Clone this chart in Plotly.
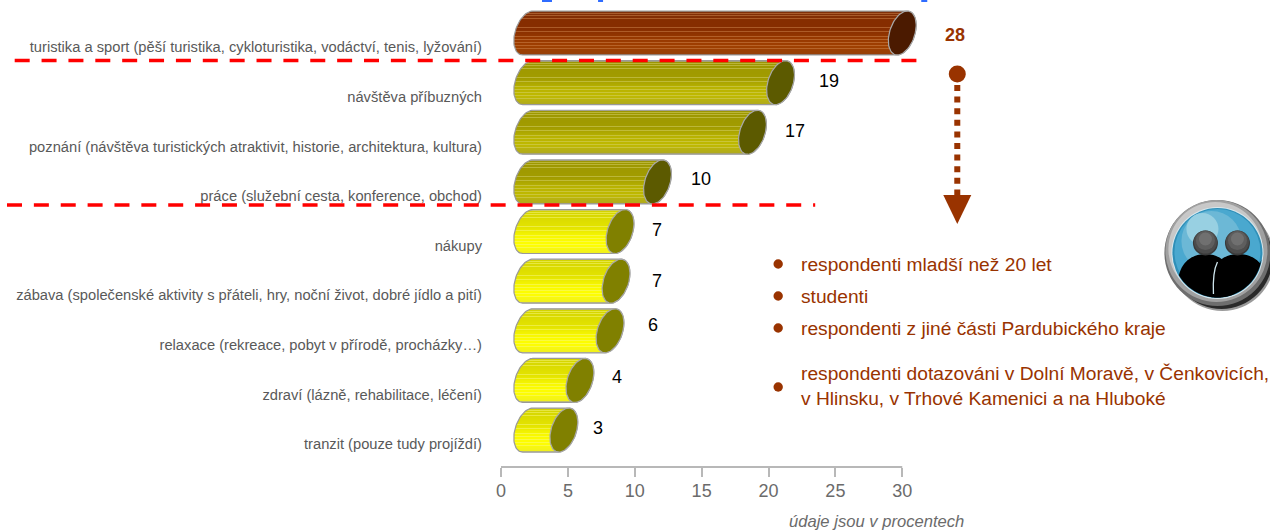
import numpy as np
import plotly.graph_objects as go

categories = [
    "turistika a sport (pěší turistika, cykloturistika, vodáctví, tenis, lyžování)",
    "návštěva příbuzných",
    "poznání (návštěva turistických atraktivit, historie, architektura, kultura)",
    "práce (služební cesta, konference, obchod)",
    "nákupy",
    "zábava (společenské aktivity s přáteli, hry, noční život, dobré jídlo a pití)",
    "relaxace (rekreace, pobyt v přírodě, procházky…)",
    "zdraví (lázně, rehabilitace, léčení)",
    "tranzit (pouze tudy projíždí)",
]
values = [28.0, 18.9, 16.8, 9.7, 6.9, 6.6, 6.15, 3.9, 2.7]
value_labels = ["28", "19", "17", "10", "7", "7", "6", "4", "3"]
groups = ["brown", "olive", "olive", "olive", "yellow", "yellow", "yellow", "yellow", "yellow"]
x_ticks = [0, 5, 10, 15, 20, 25, 30]
notes = [
    "respondenti mladší než 20 let",
    "studenti",
    "respondenti z jiné části Pardubického kraje",
    "respondenti dotazováni v Dolní Moravě, v Čenkovicích,<br>v Hlinsku, v Trhové Kamenici a na Hluboké",
]

W, H = 1270, 532
PXX = 401 / 30.0
XMAX = 32.0           # room to the right of the last tick for the bar caps
L, R, T, B = 501, 501 + XMAX * PXX, 0, 467
BASE = 2.0            # visual depth offset of the 3D bars
PXY = 49.63
Y0PX = 33.0

def px(x): return (x - L) / (R - L)
def py(y): return 1 - (y - T) / (B - T)

ramps = {
    "brown": dict(edge="#8a6048", mid=["#984008", "#a04000", "#963800", "#862d00", "#862d00", "#80300a"],
                  line="#d08850", cap="#4b1a00"),
    "olive": dict(edge="#a8a468", mid=["#b0aa20", "#c0ba00", "#b8b200", "#a29c00", "#a09a00", "#9c9600"],
                  line="#d8d470", cap="#5c5a00"),
    "yellow": dict(edge="#c8c868", mid=["#f0f020", "#ffff00", "#f8f800", "#e4e400", "#dcdc00", "#d4d400"],
                   line="#f8f880", cap="#808000"),
}
STRIPE_ROWS = [6, 9, 12, 15, 18, 23, 27, 36, 39, 41]

def hex2rgb(c): return np.array([int(c[i:i + 2], 16) for i in (1, 3, 5)], float)

def scale(r, rows=44):
    mid = [hex2rgb(c) for c in r["mid"]]
    out = []
    for k in range(rows):
        f = k / (rows - 1) * (len(mid) - 1)
        j = min(int(f), len(mid) - 2)
        col = mid[j] + (mid[j + 1] - mid[j]) * (f - j)
        if k in STRIPE_ROWS:
            col = (col + hex2rgb(r["line"])) / 2
        if k in (0, rows - 1):
            col = hex2rgb(r["edge"])
        c = "rgb(%d,%d,%d)" % tuple(col)
        out.append([k / rows, c])
        out.append([(k + 1) / rows - 1e-4 if k < rows - 1 else 1.0, c])
    return out

RX, TILT, RY = 13.0 / PXX, 5.0 / PXX, 22.0 / PXY

def ell(cx, cy, t):
    return cx + RX * np.cos(t) + TILT * np.sin(t), cy - RY * np.sin(t)

fig = go.Figure()
t_right = np.linspace(np.pi / 2, -np.pi / 2, 40)
t_left = np.linspace(-np.pi / 2, -3 * np.pi / 2, 40)
t_cap = np.linspace(0, 2 * np.pi, 80)
for i, (name, v, grp) in enumerate(zip(categories, values, groups)):
    end = BASE + v
    xa, ya = ell(end, i, t_right)
    xb, yb = ell(BASE, i, t_left)
    fig.add_trace(go.Scatter(
        x=np.r_[xa, xb, xa[0]], y=np.r_[ya, yb, ya[0]], mode="lines", fill="toself", name=name,
        showlegend=False, cliponaxis=False, line=dict(color="#999999", width=1.2), hoverinfo="skip",
        fillgradient=dict(type="vertical", colorscale=scale(ramps[grp])),
    ))
    xc, yc = ell(end, i, t_cap)
    fig.add_trace(go.Scatter(
        x=xc, y=yc, mode="lines", fill="toself", showlegend=False, hoverinfo="skip", cliponaxis=False,
        fillcolor=ramps[grp]["cap"], line=dict(color="#a8a8a8", width=1.2),
    ))

BROWN = "#993300"
GREY = "#595959"
shapes = []

def circle(cx, cy, r, fill):
    shapes.append(dict(type="circle", xref="paper", yref="paper",
                       x0=px(cx - r), x1=px(cx + r), y0=py(cy + r), y1=py(cy - r),
                       fillcolor=fill, line=dict(color=fill, width=0), layer="above"))

def path(points, fill):
    d = "M" + " L".join(f"{px(a):.5f},{py(b):.5f}" for a, b in points) + " Z"
    shapes.append(dict(type="path", xref="paper", yref="paper", path=d, fillcolor=fill,
                       line=dict(width=0), layer="above"))

def hline(x0, x1, y, color, width, dash):
    shapes.append(dict(type="line", xref="paper", yref="paper", x0=px(x0), x1=px(x1),
                       y0=py(y), y1=py(y), line=dict(color=color, width=width, dash=dash), layer="above"))

# axis baseline stops at the last tick although the plot area runs on for the caps
shapes.append(dict(type="line", xref="x", yref="paper", x0=x_ticks[0], x1=x_ticks[-1], y0=0, y1=0,
                   line=dict(color="#b8b8b8", width=2), layer="below"))

hline(15, 917, 60.5, "#ff0000", 3.4, "15px,11.87px")
hline(7.3, 815, 205, "#ff0000", 3.4, "15px,11.87px")

circle(957, 74, 8.5, BROWN)
shapes.append(dict(type="line", xref="paper", yref="paper", x0=px(957), x1=px(957), y0=py(85), y1=py(196),
                   line=dict(color=BROWN, width=6, dash="6px,5.6px"), layer="above"))
path([(943, 195), (971, 195), (957, 224)], BROWN)

for cy in [264, 296, 328, 387]:
    circle(778, cy, 4.7, BROWN)

# icon
CX, CY = 1217, 253
circle(CX + 5, CY + 6, 52, "#9a9a9a")
circle(CX + 4, CY + 5, 51, "#2a2a2a")
circle(CX, CY, 53, "#6e6e6e")
circle(CX - 1, CY - 2, 51, "#a0a0a0")
circle(CX - 2, CY - 4, 47, "#c8c8c8")
circle(CX, CY, 46, "#d8e8ee")
circle(CX, CY, 45, "#2f8fb8")
circle(CX, CY - 1, 43, "#4aa8cf")
circle(CX - 6, CY - 12, 30, "#6cb8d6")
circle(CX - 15, CY - 24, 16, "#98d0e2")

def body(c, w, top):
    xs = np.linspace(c - w, c + w, 40)
    yt = 297 - (297 - top) * np.sqrt(np.clip(1 - ((xs - c) / w) ** 2, 0, 1)) ** 0.6
    yb = CY + np.sqrt(np.clip(44.5 ** 2 - (xs - CX) ** 2, 0, None))
    up = np.minimum(yt, yb)
    return list(zip(xs, up)) + list(zip(xs[::-1], yb[::-1]))

path(body(1205, 28, 254), "#000000")
path(body(1238, 29, 254), "#000000")
shapes.append(dict(type="path", xref="paper", yref="paper",
                   path=f"M{px(1217):.5f},{py(262):.5f} Q{px(1212):.5f},{py(272):.5f} {px(1213):.5f},{py(294):.5f}",
                   line=dict(color="#cfe6ee", width=1.3), layer="above"))
for hx in (1205, 1237):
    circle(hx, 243, 12.5, "#3a3a3a")
    circle(hx, 242, 11.5, "#4c4c4c")
    circle(hx, 240.5, 9.5, "#5e5e5e")
    circle(hx, 239, 6.5, "#707070")

for a, b in [(542, 552), (598, 603), (921, 927)]:
    path([(a, 0), (b, 0), (b, 2), (a, 2)], "#2f6cff")

ann = []
def text(x, y, s, size, color, anchor="center"):
    ann.append(dict(xref="paper", yref="paper", x=px(x), y=py(y), text=s, showarrow=False,
                    xanchor=anchor, yanchor="middle", align="left",
                    font=dict(size=size, color=color, family="Liberation Sans")))

value_px = [(955, 35), (829, 81), (795, 131), (701, 179), (657, 230), (657, 281), (653, 325), (617, 377), (598, 428)]
for (x, y), lab, grp in zip(value_px, value_labels, groups):
    if grp == "brown":
        text(x, y, f"<b>{lab}</b>", 18, BROWN)
    else:
        text(x, y, lab, 18, "#000000")

for y, s in zip([264, 296, 328, 386], notes):
    text(799, y, s, 19.2, BROWN, anchor="left")

text(876.5, 521.5, "<i>údaje jsou v procentech</i>", 16.6, "#6b6b6b")

tickv = [i + 0.285 for i in range(len(categories))]

fig.update_layout(
    width=W, height=H, autosize=False,
    margin=dict(l=L, r=W - R, t=T, b=H - B, pad=0),
    paper_bgcolor="#ffffff", plot_bgcolor="#ffffff",
    showlegend=False, shapes=shapes, annotations=ann,
    xaxis=dict(range=[0, XMAX], tickvals=x_ticks, ticks="outside", ticklen=9, tickwidth=1.5,
               tickcolor="#b8b8b8", showline=False, showgrid=False, ticklabelstandoff=-2,
               zeroline=False, tickfont=dict(size=18, color="#6b6b6b", family="Liberation Sans")),
    yaxis=dict(range=[(B - Y0PX) / PXY, (T - Y0PX) / PXY], tickvals=tickv, ticktext=categories,
               ticks="", showline=False, showgrid=False, zeroline=False, ticklabelstandoff=18,
               tickfont=dict(size=14.7, color=GREY, family="Liberation Sans")),
)
fig.write_html("out.html", config=dict(displayModeBar=False),
               post_script="document.body.style.margin='0';document.body.style.overflow='hidden';")
